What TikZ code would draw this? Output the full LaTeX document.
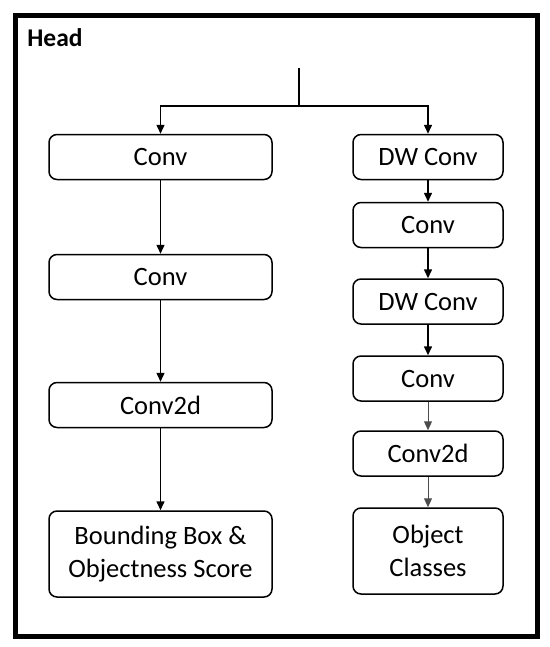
\documentclass[tikz,border=0pt]{standalone}
\usepackage{fontspec}
\setmainfont{Carlito}
\usepackage{tikz}
\usetikzlibrary{arrows.meta}

\tikzset{
    block/.style={draw, line width=0.75pt, rounded corners=4pt, align=center,
        minimum height=22.5pt, inner sep=0pt, font=\fontsize{13.25}{16.5}\selectfont},
    wideblock/.style={block, minimum width=111.5pt},
    narrowblock/.style={block, minimum width=75pt},
    flow/.style={-{Triangle[length=4.5pt,width=4pt]}, line width=0.75pt},
    thinflow/.style={-{Triangle[length=4.5pt,width=4pt]}, line width=0.5pt, black!70},
}

\begin{document}
\begin{tikzpicture}[x=0.5pt, y=-0.5pt]
    \useasboundingbox (0,0) rectangle (550,647);

    % Outer frame
    \draw[line width=2.5pt] (15.5,16) rectangle (537.5,636);
    \node[anchor=base west, inner sep=0pt, font=\fontsize{12.75}{15}\selectfont\bfseries] (head) at (27,47) {Head};

    % Input and split point
    \coordinate (in) at (299,68);
    \coordinate (split) at (299,106);

    % Left branch: box regression
    \node[wideblock] (lconv1) at (160.5,157) {Conv};
    \node[wideblock] (lconv2) at (160.5,277) {Conv};
    \node[wideblock] (lconv2d) at (160.5,405) {Conv2d};
    \node[wideblock, minimum height=43pt] (bbox) at (160.5,554) {Bounding Box \&\\Objectness Score};

    % Right branch: classification
    \node[narrowblock] (rdw1) at (428,157) {DW Conv};
    \node[narrowblock] (rconv1) at (428,225) {Conv};
    \node[narrowblock] (rdw2) at (428,301.5) {DW Conv};
    \node[narrowblock] (rconv2) at (428,378.5) {Conv};
    \node[narrowblock] (rconv2d) at (428,453.5) {Conv2d};
    \node[narrowblock, minimum height=43pt] (cls) at (428,551) {Object\\Classes};

    % Connections
    \draw[line width=0.75pt] (in) -- (split);
    \draw[flow] (split) -| (lconv1.north);
    \draw[flow] (split) -| (rdw1.north);

    \draw[flow] (lconv1) -- (lconv2);
    \draw[flow] (lconv2) -- (lconv2d);
    \draw[flow] (lconv2d) -- (bbox);

    \draw[flow] (rdw1) -- (rconv1);
    \draw[flow] (rconv1) -- (rdw2);
    \draw[flow] (rdw2) -- (rconv2);
    \draw[thinflow] (rconv2) -- (rconv2d);
    \draw[thinflow] (rconv2d) -- (cls);
\end{tikzpicture}
\end{document}
